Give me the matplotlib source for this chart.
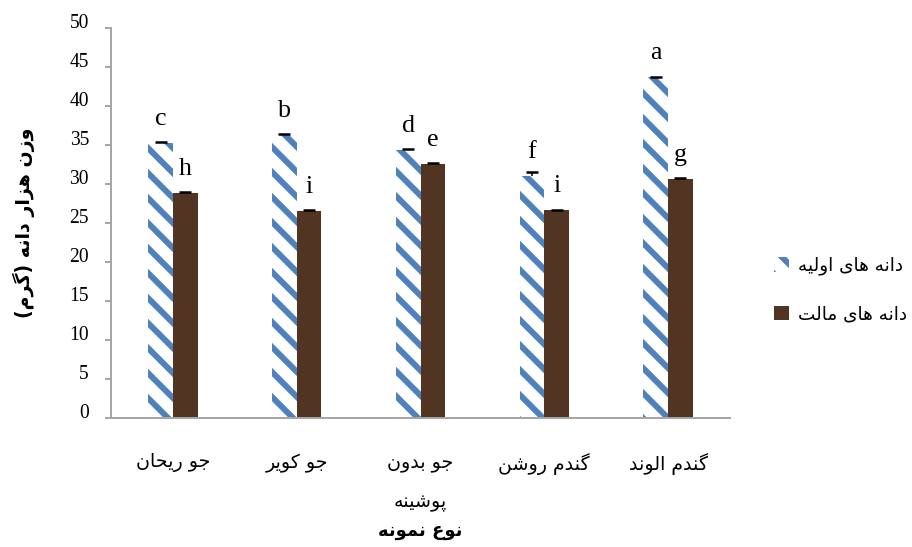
import matplotlib
matplotlib.use("Agg")
import matplotlib.pyplot as plt
from matplotlib.patches import Patch

# data
categories = ["جو ریحان", "جو کویر", "جو بدون\nپوشینه", "گندم روشن", "گندم الوند"]
primary = [35.3, 36.3, 34.4, 31.0, 43.7]
primary_err = [0.1, 0.1, 0.15, 0.5, 0.1]
malt = [28.9, 26.5, 32.6, 26.6, 30.7]
malt_err = [0.1, 0.1, 0.1, 0.1, 0.1]
primary_letters = ["c", "b", "d", "f", "a"]
malt_letters = ["h", "i", "e", "i", "g"]
series_names = ["دانه های اولیه", "دانه های مالت"]
y_ticks = list(range(0, 51, 5))
xlabel = "نوع نمونه"
ylabel = "وزن هزار دانه (گرم)"

# minimal Persian shaping (matplotlib draws no contextual forms / bidi)
FORMS = {
    "ا": ("\uFE8D", "\uFE8E"), "د": ("\uFEA9", "\uFEAA"), "ر": ("\uFEAD", "\uFEAE"),
    "ز": ("\uFEAF", "\uFEB0"), "و": ("\uFEED", "\uFEEE"),
    "ب": ("\uFE8F", "\uFE90", "\uFE91", "\uFE92"), "پ": ("\uFB56", "\uFB57", "\uFB58", "\uFB59"),
    "ت": ("\uFE95", "\uFE96", "\uFE97", "\uFE98"), "ج": ("\uFE9D", "\uFE9E", "\uFE9F", "\uFEA0"),
    "ح": ("\uFEA1", "\uFEA2", "\uFEA3", "\uFEA4"), "ش": ("\uFEB5", "\uFEB6", "\uFEB7", "\uFEB8"),
    "ع": ("\uFEC9", "\uFECA", "\uFECB", "\uFECC"), "ک": ("\uFB8E", "\uFB8F", "\uFB90", "\uFB91"),
    "گ": ("\uFB92", "\uFB93", "\uFB94", "\uFB95"), "ل": ("\uFEDD", "\uFEDE", "\uFEDF", "\uFEE0"),
    "م": ("\uFEE1", "\uFEE2", "\uFEE3", "\uFEE4"), "ن": ("\uFEE5", "\uFEE6", "\uFEE7", "\uFEE8"),
    "ه": ("\uFEE9", "\uFEEA", "\uFEEB", "\uFEEC"), "ی": ("\uFBFC", "\uFBFD", "\uFBFE", "\uFBFF"),
}


def shape_line(s):
    out = []
    for i, ch in enumerate(s):
        f = FORMS.get(ch)
        if f is None:
            out.append(ch)
            continue
        prev = s[i - 1] if i > 0 else ""
        nxt = s[i + 1] if i + 1 < len(s) else ""
        jp = prev in FORMS and len(FORMS[prev]) == 4
        jn = len(f) == 4 and nxt in FORMS
        out.append(f[3] if jp and jn else f[1] if jp else f[2] if jn else f[0])
    return "".join(reversed(out)).translate(str.maketrans("()", ")("))


def fa(s):
    return "\n".join(shape_line(line) for line in s.split("\n"))


DPI = 150
def pt(px):
    return px * 72 / DPI

plt.rcParams["font.family"] = ["Liberation Serif", "DejaVu Sans"]
plt.rcParams["hatch.linewidth"] = pt(6)

GRAY = "#a6a6a6"
BLUE = "#4f81bd"
BROWN = "#523423"

fig = plt.figure(figsize=(912 / DPI, 547 / DPI), dpi=DPI)
ax = fig.add_axes([111 / 912, 1 - 417.5 / 547, 619 / 912, 389.2 / 547])

x = list(range(len(categories)))
w = 0.2
xp = [i - w / 2 for i in x]
xm = [i + w / 2 for i in x]

# hatch takes the edge colour; lw=0 hides the outline itself
ax.bar(xp, primary, width=w, color="white", edgecolor=BLUE, hatch="\\\\", lw=0)
ax.bar(xm, malt, width=w, color=BROWN, edgecolor=BROWN, lw=0)
# plus-only error bars, as in the source chart
for xs, vals, errs in [(xp, primary, primary_err), (xm, malt, malt_err)]:
    _, caps, _ = ax.errorbar(xs, vals, yerr=[[0] * len(errs), errs], fmt="none",
                             ecolor="black", elinewidth=pt(1.5), capsize=pt(6),
                             capthick=pt(2.5))
    caps[0].set_visible(False)   # drop the lower cap

for xs, vals, letters in [(xp, primary, primary_letters), (xm, malt, malt_letters)]:
    for xi, v, t in zip(xs, vals, letters):
        ax.annotate(t, (xi, v), xytext=(0, pt(18)), textcoords="offset points",
                    ha="center", va="baseline", fontsize=pt(26), family="Liberation Serif")

ax.set_xlim(-0.5, len(categories) - 0.5)
ax.set_ylim(0, 50)
ax.set_yticks(y_ticks)
ax.tick_params(axis="y", direction="out", length=pt(6), width=pt(2), color=GRAY,
               labelsize=pt(19.5), pad=pt(16))
for lab in ax.get_yticklabels():
    lab.set_verticalalignment("baseline")
ax.set_xticks(x)
ax.set_xticklabels([fa(c) for c in categories], fontsize=pt(19), family="DejaVu Sans",
                   linespacing=2.3)
ax.tick_params(axis="x", length=0, pad=pt(36))

for s in ["top", "right"]:
    ax.spines[s].set_visible(False)
for s in ["left", "bottom"]:
    ax.spines[s].set_color(GRAY)
    ax.spines[s].set_linewidth(pt(2))

fig.text(420 / 912, 1 - 531 / 547, fa(xlabel), ha="center", va="center",
         fontsize=pt(18), fontweight="bold", family="DejaVu Sans")
fig.text(24 / 912, 1 - 223 / 547, fa(ylabel), ha="center", va="center", rotation=90,
         fontsize=pt(19), fontweight="bold", family="DejaVu Sans")

handles = [Patch(facecolor="white", hatch="\\\\", edgecolor=BLUE, lw=0),
           Patch(facecolor=BROWN, edgecolor=BROWN, lw=0)]
fig.legend(handles, [fa(n) for n in series_names], loc="center left",
           bbox_to_anchor=(774 / 912, 1 - 290 / 547), frameon=False,
           prop={"family": "DejaVu Sans", "size": pt(18.5)},
           handlelength=0.8, handleheight=0.8, handletextpad=0.5, labelspacing=1.6,
           borderpad=0, borderaxespad=0)

fig.savefig("out.png", dpi=DPI)
